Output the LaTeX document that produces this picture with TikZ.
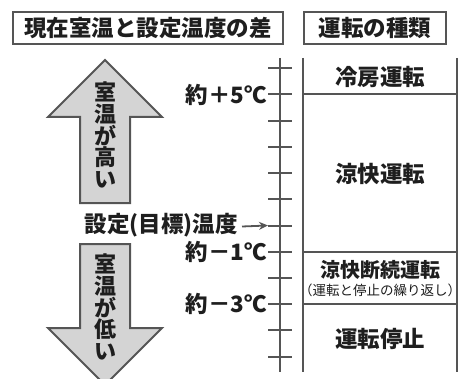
\documentclass[tikz,border=0pt]{standalone}
\usepackage{fontspec}
\setmainfont{Noto Sans CJK JP}
\usepackage{tikz}
\usetikzlibrary{
    positioning,
    arrows.meta,
    calc
}
\definecolor{linegray}{HTML}{555555}
\definecolor{fillgray}{HTML}{D4D4D4}
\definecolor{textblack}{HTML}{1E1E1E}

\begin{document}
\begin{tikzpicture}[
    x=1pt, y=-1pt,
    every node/.style={font=\bfseries\fontsize{22.5}{23}\selectfont, text=textblack, inner sep=0pt},
    titlebox/.style={
        rectangle,
        draw=linegray,
        line width=2pt,
        minimum height=32pt,
        anchor=north west
    },
    axisline/.style={draw=linegray, line width=2pt},
    bigarrow/.style={draw=linegray, fill=fillgray, line width=2pt, line join=miter},
    ticklabel/.style={anchor=east},
    mode/.style={align=center},
    vtext/.style={align=center, font=\bfseries\fontsize{22}{21.6}\selectfont}
]
\useasboundingbox (0,0) rectangle (462,379);

% ---------- Title boxes ----------
\node[titlebox, minimum width=270pt] (diff) at (12,11) {現在室温と設定温度の差};
\node[titlebox, minimum width=142pt] (kind) at (303,11) {運転の種類};

% ---------- Temperature axis ----------
\coordinate (top) at (280,58);
\coordinate (bot) at (280,372);
\draw[axisline] (top) -- (bot);
\foreach \i in {0,...,11}{
    \coordinate (t\i) at (280,{68.3+26.2*\i});
    \draw[axisline] ($(t\i)+(-12,0)$) -- ($(t\i)+(12,0)$);
}

% ---------- Axis labels ----------
\node[ticklabel] (p5) at ($(t1)+(-13,0)$) {約＋5℃};
\node[ticklabel] (set) at ($(t6)+(-42,0)$) {設定(目標)温度};
\node[ticklabel] (m1) at ($(t7)+(-13,0)$) {約－1℃};
\node[ticklabel] (m3) at ($(t9)+(-13,0)$) {約－3℃};
\draw[linegray, line width=1.8pt, -{Stealth[length=9pt,width=8pt]}]
    ($(set.east)+(4,1)$) -- ($(t6)+(-12,0)$);

% ---------- Operation column ----------
\draw[axisline] (303,58) -- (303,372);
\draw[axisline] (457,58) -- (457,372);
\draw[axisline] (303,94.5) -- (457,94.5);
\draw[axisline] (303,251.7) -- (457,251.7);
\draw[axisline] (303,304.1) -- (457,304.1);

\node[mode] (cool) at (380,77) {冷房運転};
\node[mode] (fresh) at (380,174) {涼快運転};
\node[mode, font=\bfseries\fontsize{20}{21}\selectfont] (inter) at (380,270) {涼快断続運転};
\node[mode, font=\fontsize{13.5}{15}\selectfont, below=4pt of inter] (rep) {（運転と停止の繰り返し）};
\node[mode] (stop) at (380,339) {運転停止};

% ---------- Big arrows ----------
\draw[bigarrow] (105,60) -- (162,117) -- (130,117) -- (130,203)
    -- (80,203) -- (80,117) -- (48,117) -- cycle;
\node[vtext] (high) at (105,135) {室\\温\\が\\高\\い};

\draw[bigarrow] (80,244) -- (130,244) -- (130,328) -- (162,328)
    -- (105,385) -- (48,328) -- (80,328) -- cycle;
\node[vtext] (low) at (105,307) {室\\温\\が\\低\\い};

\end{tikzpicture}
\end{document}
